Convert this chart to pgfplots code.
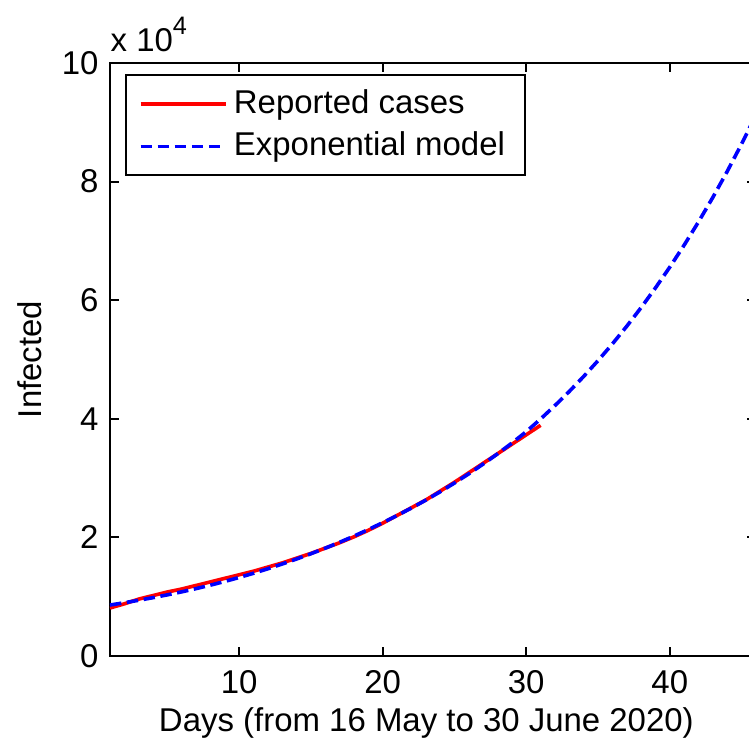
\documentclass[border=0pt]{standalone}
\usepackage{pgfplots}
\usepackage{pgfplotstable}
\pgfplotsset{compat=1.18}
\usepackage{fontspec}
\setmainfont{Liberation Sans}
\pgfplotstableread{
day cases
1 8100
2 8800
3 9600
4 10200
5 10800
6 11300
7 11900
8 12500
9 13100
10 13700
11 14300
12 15000
13 15700
14 16500
15 17300
16 18200
17 19100
18 20100
19 21200
20 22400
21 23700
22 25000
23 26300
24 27800
25 29300
26 30900
27 32500
28 34100
29 35700
30 37300
31 38900
}\reported
\pgfplotstableread{
day model
1 8600
2 8987
3 9401
4 9844
5 10318
6 10825
7 11369
8 11952
9 12577
10 13248
11 13955
12 14715
13 15516
14 16361
15 17252
16 18191
17 19182
18 20226
19 21327
20 22488
21 23688
22 24953
23 26285
24 27688
25 29166
26 30723
27 32363
28 34091
29 35911
30 37828
31 39967
32 42227
33 44614
34 47136
35 49801
36 52617
37 55592
38 58735
39 62056
40 65565
41 69272
42 73189
43 77327
44 81699
45 86318
46 91198
}\model
\begin{document}
\begin{tikzpicture}
\begin{axis}[
  name=ax,
  at={(0,0)}, anchor=south west,
  scale only axis,
  width=197pt, height=180.9pt,
  xmin=1, xmax=46, ymin=0, ymax=100000,
  xtick={10,20,30,40},
  ytick={0,20000,40000,60000,80000,100000},
  yticklabels={0,2,4,6,8,10},
  scaled y ticks=false,
  tick align=inside,
  major tick length=2.7pt,
  axis line style={line width=0.6pt},
  every tick/.style={black, line width=0.6pt},
  tick label style={font=\fontsize{10.05}{12}\selectfont},
  /pgf/number format/assume math mode=true,
  xticklabel style={yshift=-1pt},
  label style={font=\fontsize{10.05}{12}\selectfont},
  xlabel={Days (from 16 May to 30 June 2020)},
  xlabel style={at={(axis description cs:0.5,0)}, anchor=base, yshift=-22.9pt, xshift=-2pt},
  ylabel={Infected},
  ylabel style={at={(axis description cs:-0.105,0.5)}, rotate=0, anchor=south, inner sep=0pt},
  legend style={at={(0,1)}, anchor=north west, xshift=4.5pt, yshift=-3.4pt,
    draw=black, line width=0.6pt, font=\fontsize{10.05}{12}\selectfont,
    inner xsep=4pt, inner ysep=2.4pt, row sep=0.2pt},
  legend cell align=left,
  legend image code/.code={\draw[#1] (0pt,0pt) -- (25.9pt,0pt);},
]
\addplot[red, line width=1.1pt] table[x=day, y=cases] {\reported};
\addlegendentry{Reported cases}
\addplot[blue, line width=1.1pt, dash pattern=on 3.5pt off 1.7pt] table[x=day, y=model] {\model};
\addlegendentry{Exponential model}
\end{axis}
\node[anchor=base west, inner sep=0pt, font=\fontsize{10.05}{12}\selectfont] at (0pt,184.3pt) {x 10\raisebox{5.2pt}{\fontsize{7.7}{9}\selectfont 4}};
\pgfresetboundingbox
\useasboundingbox (-33.55pt,-26.5pt) rectangle (194.9pt,200.1pt);
\end{tikzpicture}
\end{document}
